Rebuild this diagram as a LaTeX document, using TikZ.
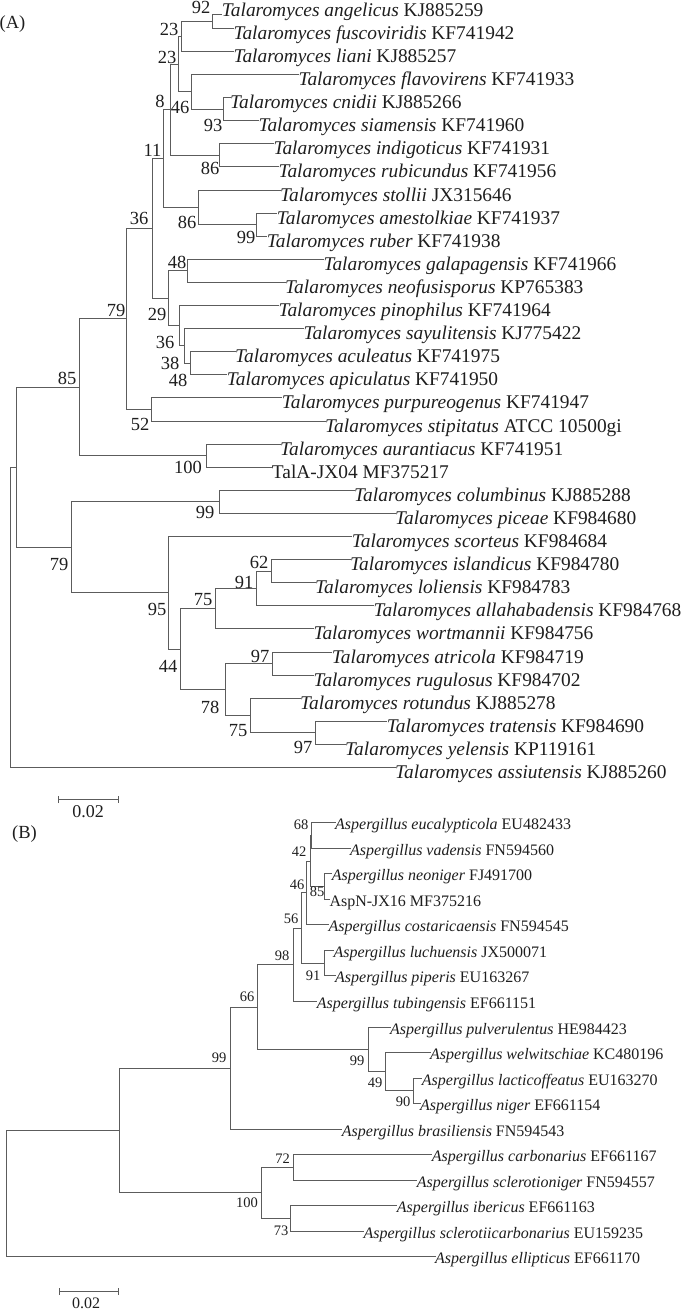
\documentclass[tikz,border=0pt]{standalone}
\usepackage{fontspec}
\setmainfont{Liberation Serif}
\usepackage{tikz}
\usetikzlibrary{arrows.meta}
\definecolor{linecolor}{HTML}{5C5C5C}
\definecolor{labelcolor}{HTML}{1E1E1E}

\tikzset{
  leafA/.style={anchor=west,inner sep=0pt,text height=22pt,text depth=0pt,
    font=\fontsize{19.4}{19.4}\selectfont,text=labelcolor},
  leafB/.style={anchor=west,inner sep=0pt,text height=14pt,text depth=0pt,
    font=\fontsize{16}{16}\selectfont,text=labelcolor},
  bootA/.style={inner sep=0pt,font=\fontsize{18.5}{18.5}\selectfont,text=labelcolor},
  bootB/.style={inner sep=0pt,font=\fontsize{14.5}{14.5}\selectfont,text=labelcolor},
  branch/.style={linecolor,line width=1pt,line cap=rect},
}

\begin{document}
\begin{tikzpicture}[x=1pt,y=-1pt]
\useasboundingbox (0,0) rectangle (682,1311);

%% ---------------- (A) Talaromyces ----------------
\node[bootA] (panA) at (12.5,24.5) {(A)};
\node[leafA,text height=4pt] (angel) at (221.7,15) {\textit{Talaromyces angelicus} KJ885259};
\foreach \nm/\xx/\yy/\sp/\acc in {
  fusco/233.3/28.3/fuscoviridis/KF741942, liani/233.3/51.4/liani/KJ885257,
  flav/298.3/74.5/flavovirens/KF741933, cnid/230/97.6/cnidii/KJ885266,
  siam/258.3/120.7/siamensis/KF741960, indi/273.3/143.8/indigoticus/KF741931,
  rubi/278.3/166.9/rubicundus/KF741956, stol/280/190/stollii/JX315646,
  ames/276.7/213.1/amestolkiae/KF741937, rube/266.7/236.2/ruber/KF741938,
  gala/323.3/259.3/galapagensis/KF741966, neof/285/282.4/neofusisporus/KP765383,
  pino/278.3/305.5/pinophilus/KF741964, sayu/303.3/328.6/sayulitensis/KJ775422,
  acul/235/351.7/aculeatus/KF741975, apic/226.7/374.8/apiculatus/KF741950,
  purp/281.7/397.9/purpureogenus/KF741947, stip/325/421/stipitatus/ATCC 10500gi,
  aura/280/444.1/aurantiacus/KF741951,
  colu/354/490.3/columbinus/KJ885288, pice/395/513.4/piceae/KF984680,
  scor/351.7/536.5/scorteus/KF984684, isla/350/559.6/islandicus/KF984780,
  loli/315/582.7/loliensis/KF984783, alla/373.3/605.8/allahabadensis/KF984768,
  wort/313.3/628.9/wortmannii/KF984756, atri/331.7/652/atricola/KF984719,
  rugu/313.3/675.1/rugulosus/KF984702, rotu/300/698.2/rotundus/KJ885278,
  trat/386.7/721.3/tratensis/KF984690, yele/345/744.4/yelensis/KP119161,
  assi/395/767.5/assiutensis/KJ885260}
  \node[leafA] (\nm) at (\xx,\yy) {\textit{Talaromyces \sp} \acc};
\node[leafA] (tala) at (271.7,467.2) {TalA-JX04 MF375217};

\foreach \nm/\xx/\yy in {
  n92/212.3/21.7, n23a/181.7/36.5, n93/223.3/109.15, n46/191.7/91.8,
  n23b/178.3/64.2, n86a/219/155.35, n8/170/109.8, n99a/256.7/224.65,
  n86b/198.3/207.3, n11/163.3/158.55, n48a/187.7/270.85, n48b/190/363.25,
  n38/184.3/345.9, n36b/179/325.7, n29/168.3/298.3, n36a/152.7/228.4,
  n52/151.7/409.45, n79a/126/318.9, n100/206.7/455.65, n85/79/387.3,
  n99c/219/501.85, n62/271.7/571.15, n91/256/588.5, n75a/215/608.7,
  n97a/272.7/663.55, n97b/315/732.85, n75b/250/715.5, n78/225/689.5,
  n44/180/649.1, n95/168.3/592.8, n79b/71.7/547.3, nA/16.7/467.3,
  rootA/10/617.4}
  \coordinate (\nm) at (\xx,\yy);

\foreach \p/\c in {
  n92/angel, n92/fusco, n23a/n92, n23a/liani, n93/cnid, n93/siam,
  n46/flav, n46/n93, n23b/n23a, n23b/n46, n86a/indi, n86a/rubi,
  n8/n23b, n8/n86a, n99a/ames, n99a/rube, n86b/stol, n86b/n99a,
  n11/n8, n11/n86b, n48a/gala, n48a/neof, n48b/acul, n48b/apic,
  n38/sayu, n38/n48b, n36b/pino, n36b/n38, n29/n48a, n29/n36b,
  n36a/n11, n36a/n29, n52/purp, n52/stip, n79a/n36a, n79a/n52,
  n100/aura, n100/tala, n85/n79a, n85/n100, n99c/colu, n99c/pice,
  n62/isla, n62/loli, n91/n62, n91/alla, n75a/n91, n75a/wort,
  n97a/atri, n97a/rugu, n97b/trat, n97b/yele, n75b/rotu, n75b/n97b,
  n78/n97a, n78/n75b, n44/n75a, n44/n78, n95/scor, n95/n44,
  n79b/n99c, n79b/n95, nA/n85, nA/n79b, rootA/nA, rootA/assi}
  \draw[branch] (\p) |- (\c);

%% bootstrap values
\foreach \nm/\xx/\yy/\bs in {
  b92/201/7/92, b23a/169/29/23, b23b/167/57/23, b8/160/101/8,
  b46/180/107/46, b93/213/125/93, b11/152.5/150/11, b86a/210/168/86,
  b36a/139/218/36, b86b/187/222/86, b99a/246/237/99, b48a/177/262/48,
  b79a/116/310/79, b29/157/314/29, b36b/165/342/36, b38/170/363/38,
  b48b/178/380/48, b85/67/378/85, b52/140/424/52, b100/188/467/100,
  b99c/205/512/99, b79b/59/564/79, b62/259/562/62, b91/244/582/91,
  b75a/203/600/75, b95/157/609/95, b97a/260/656/97, b44/168/666/44,
  b78/210/707/78, b75b/238/731/75, b97b/303/747/97}
  \node[bootA] (\nm) at (\xx,\yy) {\bs};

%% scale bar A
\coordinate (sbAl) at (58.3,799.5);
\coordinate (sbAr) at (119,799.5);
\draw[branch,line cap=butt,{Bar[width=7pt]}-{Bar[width=7pt]}] (sbAl) -- (sbAr);
\node[bootA,font=\fontsize{18}{18}\selectfont] (sA) at (88,811.5) {0.02};

%% ---------------- (B) Aspergillus ----------------
\node[bootA] (panB) at (24.5,834.5) {(B)};
\foreach \nm/\xx/\yy/\sp/\acc in {
  euca/335/822.7/eucalypticola/EU482433, vade/350/848.2/vadensis/FN594560,
  neon/331.7/873.8/neoniger/FJ491700,
  cost/328.3/924.8/costaricaensis/FN594545, luch/333.3/950.4/luchuensis/JX500071,
  pipe/335/975.9/piperis/EU163267, tubi/316.7/1001.4/tubingensis/EF661151,
  pulv/390/1027/pulverulentus/HE984423, welw/430/1052.5/welwitschiae/KC480196,
  lact/421.7/1078/lacticoffeatus/EU163270, nige/420/1103.5/niger/EF661154,
  bras/341.7/1129.1/brasiliensis/FN594543, carb/431.7/1154.6/carbonarius/EF661167,
  scln/416.7/1180.1/sclerotioniger/FN594557, iber/396.7/1205.7/ibericus/EF661163,
  sclc/363.3/1231.2/sclerotiicarbonarius/EU159235, elli/435/1256.7/ellipticus/EF661170}
  \node[leafB] (\nm) at (\xx,\yy) {\textit{Aspergillus \sp} \acc};
\node[leafB] (aspn) at (329.3,899.3) {AspN-JX16 MF375216};

\foreach \nm/\xx/\yy in {
  m68/311.7/835.45, m85/324.3/886.55, m42/310/861, m46/306.7/892.9,
  m91/324/963.15, m56/301.7/928, m98/293.3/964.7, m90/413.3/1090.75,
  m49/385.7/1071.6, m99b/368.3/1049.3, m66/257.3/1007, m99a/230/1068,
  m72/293.3/1167.35, m73/290.7/1218.45, m100/261.7/1192.9, mB/119/1130.45,
  rootB/6.7/1193.6}
  \coordinate (\nm) at (\xx,\yy);

\foreach \p/\c in {
  m68/euca, m68/vade, m85/neon, m85/aspn, m42/m68, m42/m85,
  m46/m42, m46/cost, m91/luch, m91/pipe, m56/m46, m56/m91,
  m98/m56, m98/tubi, m90/lact, m90/nige, m49/welw, m49/m90,
  m99b/pulv, m99b/m49, m66/m98, m66/m99b, m99a/m66, m99a/bras,
  m72/carb, m72/scln, m73/iber, m73/sclc, m100/m72, m100/m73,
  mB/m99a, mB/m100, rootB/mB, rootB/elli}
  \draw[branch] (\p) |- (\c);

\foreach \nm/\xx/\yy/\bs in {
  c68/301/825/68, c42/299/852/42, c46/297/885/46, c85/317/892/85,
  c56/291/919/56, c98/282/956/98, c91/313/976/91, c66/247/997/66,
  c99a/219/1058/99, c99b/357/1061/99, c49/375/1083/49, c90/403/1102/90,
  c72/282.5/1159/72, c100/247/1203/100, c73/281/1231/73}
  \node[bootB] (\nm) at (\xx,\yy) {\bs};

%% scale bar B
\coordinate (sbBl) at (59.3,1291.7);
\coordinate (sbBr) at (119,1291.7);
\draw[branch,line cap=butt,{Bar[width=7pt]}-{Bar[width=7pt]}] (sbBl) -- (sbBr);
\node[bootB,font=\fontsize{16}{16}\selectfont] (sB) at (86,1303) {0.02};
\end{tikzpicture}
\end{document}
